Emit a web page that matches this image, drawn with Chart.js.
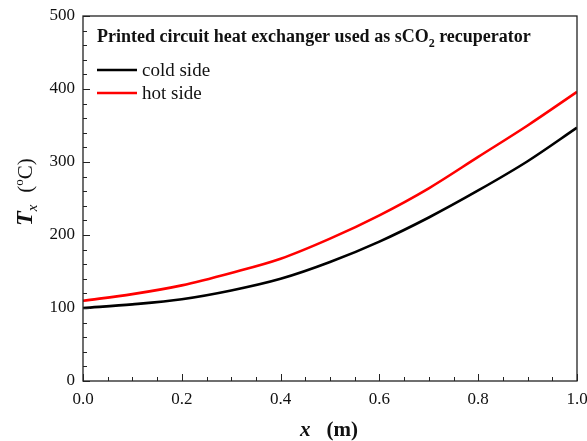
<!DOCTYPE html>
<html>
<head>
<meta charset="utf-8">
<script src="https://cdn.jsdelivr.net/npm/chart.js@4/dist/chart.umd.min.js"></script>
<style>
html,body{margin:0;padding:0;background:#fff;}
#wrap{width:587px;height:441px;position:relative;}
</style>
</head>
<body>
<div id="wrap"><canvas id="c" width="587" height="441"></canvas></div>
<script>
const xPositions = [0, 0.1, 0.2, 0.3, 0.4, 0.5, 0.6, 0.7, 0.8, 0.9, 1.0];
const coldSide   = [100, 105, 112, 124, 140, 163, 191, 224, 261, 301, 347];
const hotSide    = [110, 119, 131, 148, 167.5, 195, 227, 264, 307, 350, 396];
const xTicks = [0, 0.2, 0.4, 0.6, 0.8, 1.0];
const yTicks = [0, 100, 200, 300, 400, 500];
const seriesNames = ['cold side', 'hot side'];
const seriesColors = ['#000000', '#ff0000'];
const chartTitle = 'Printed circuit heat exchanger used as sCO';
const chartTitleSub = '2';
const chartTitleEnd = ' recuperator';

const SERIF = '"Liberation Serif", "Times New Roman", serif';

const toPts = (ys) => xPositions.map((x, i) => ({x: x, y: ys[i]}));

const decor = {
  id: 'decor',
  afterDraw(chart) {
    const ctx = chart.ctx;
    const a = chart.chartArea;
    const xs = chart.scales.x, ys = chart.scales.y;
    ctx.save();
    // frame
    ctx.strokeStyle = '#222';
    ctx.lineWidth = 1.3;
    ctx.strokeRect(a.left, a.top, a.right - a.left, a.bottom - a.top);
    // inward ticks
    ctx.lineWidth = 1;
    ctx.beginPath();
    for (let v = 0; v <= 1.0001; v += 0.05) {
      const px = Math.round(xs.getPixelForValue(v)) + 0.5;
      const major = Math.abs(v / 0.2 - Math.round(v / 0.2)) < 1e-6;
      const len = major ? 7 : 4;
      ctx.moveTo(px, a.bottom);
      ctx.lineTo(px, a.bottom - len);
    }
    for (let v = 0; v <= 500; v += 20) {
      const py = Math.round(ys.getPixelForValue(v)) + 0.5;
      const major = v % 100 === 0;
      const len = major ? 7 : 4;
      ctx.moveTo(a.left, py);
      ctx.lineTo(a.left + len, py);
    }
    ctx.stroke();

    // title inside plot
    ctx.fillStyle = '#111';
    ctx.textBaseline = 'alphabetic';
    ctx.textAlign = 'left';
    let tx = 97, ty = 42;
    ctx.font = 'bold 18px ' + SERIF;
    ctx.fillText(chartTitle, tx, ty);
    tx += ctx.measureText(chartTitle).width;
    ctx.font = 'bold 12px ' + SERIF;
    ctx.fillText(chartTitleSub, tx, ty + 5);
    tx += ctx.measureText(chartTitleSub).width;
    ctx.font = 'bold 18px ' + SERIF;
    ctx.fillText(chartTitleEnd, tx, ty);

    // legend
    const legY = [70, 93];
    seriesNames.forEach((name, i) => {
      ctx.strokeStyle = seriesColors[i];
      ctx.lineWidth = 2.6;
      ctx.beginPath();
      ctx.moveTo(97, legY[i]);
      ctx.lineTo(137, legY[i]);
      ctx.stroke();
      ctx.fillStyle = '#111';
      ctx.font = '19px ' + SERIF;
      ctx.fillText(name, 142, legY[i] + 6);
    });

    // x axis title
    ctx.fillStyle = '#111';
    let xx = 300, xy = 436;
    ctx.font = 'italic bold 21px ' + SERIF;
    ctx.fillText('x', xx, xy);
    xx += ctx.measureText('x').width + 16;
    ctx.font = 'bold 21px ' + SERIF;
    ctx.fillText('(m)', xx, xy);

    // y axis title (rotated)
    ctx.translate(32, 226);
    ctx.rotate(-Math.PI / 2);
    let yx = 0;
    ctx.font = 'italic bold 24px ' + SERIF;
    ctx.fillText('T', yx, 0);
    yx += ctx.measureText('T').width;
    ctx.font = 'italic 15px ' + SERIF;
    ctx.fillText('x', yx, 5);
    yx += ctx.measureText('x').width + 12;
    ctx.font = '21px ' + SERIF;
    ctx.fillText('(', yx, 0);
    yx += ctx.measureText('(').width;
    ctx.font = '13px ' + SERIF;
    ctx.fillText('o', yx, -9);
    yx += ctx.measureText('o').width;
    ctx.font = '21px ' + SERIF;
    ctx.fillText('C)', yx, 0);
    ctx.restore();
  }
};

new Chart(document.getElementById('c'), {
  type: 'line',
  data: {
    datasets: [
      {label: seriesNames[0], data: toPts(coldSide), borderColor: seriesColors[0], borderWidth: 2.6, pointRadius: 0, cubicInterpolationMode: 'monotone', fill: false},
      {label: seriesNames[1], data: toPts(hotSide), borderColor: seriesColors[1], borderWidth: 2.6, pointRadius: 0, cubicInterpolationMode: 'monotone', fill: false}
    ]
  },
  options: {
    responsive: false,
    animation: false,
    devicePixelRatio: 1,
    layout: {padding: {top: 16, right: 10, left: 0, bottom: 0}},
    plugins: {legend: {display: false}, tooltip: {enabled: false}, title: {display: false}},
    scales: {
      x: {
        type: 'linear', min: 0, max: 1.0,
        afterBuildTicks: (s) => { s.ticks = xTicks.map(v => ({value: v})); },
        afterFit: (s) => { s.height = 60; s.paddingLeft = 0; s.paddingRight = 0; },
        grid: {display: false, drawTicks: false},
        border: {display: false},
        ticks: {padding: 8, color: '#111', font: {family: SERIF, size: 17}, callback: (v) => Number(v).toFixed(1), maxRotation: 0}
      },
      y: {
        type: 'linear', min: 0, max: 500,
        afterBuildTicks: (s) => { s.ticks = yTicks.map(v => ({value: v})); },
        afterFit: (s) => { s.width = 83; s.paddingTop = 0; s.paddingBottom = 0; },
        grid: {display: false, drawTicks: false},
        border: {display: false},
        ticks: {padding: 8, color: '#111', font: {family: SERIF, size: 17}}
      }
    }
  },
  plugins: [decor]
});
</script>
</body>
</html>
